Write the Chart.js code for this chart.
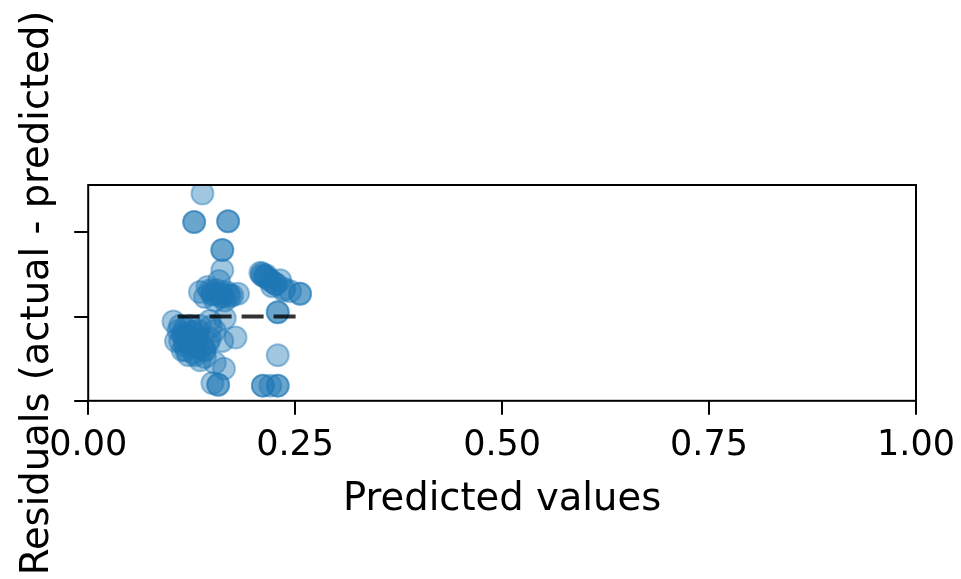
<!DOCTYPE html>
<html>
<head>
<meta charset="utf-8">
<script src="https://cdn.jsdelivr.net/npm/chart.js@4/dist/chart.umd.min.js"></script>
<style>
  html, body { margin: 0; padding: 0; background: #fff; }
  #wrap { width: 961px; height: 579px; }
</style>
</head>
<body>
<div id="wrap"><canvas id="c" width="961" height="579"></canvas></div>
<script>
// Predicted values and their residuals (actual - predicted)
const predicted = [
  0.138, 0.128, 0.128, 0.169, 0.169, 0.162, 0.162, 0.162, 0.158, 0.150,
  0.162, 0.171, 0.141, 0.155, 0.135, 0.150, 0.162, 0.210, 0.217, 0.226,
  0.236, 0.256, 0.256, 0.232, 0.215, 0.210, 0.229, 0.229, 0.103, 0.111,
  0.117, 0.123, 0.114, 0.129, 0.135, 0.145, 0.153, 0.162, 0.178, 0.141,
  0.153, 0.164, 0.157, 0.157, 0.150, 0.229, 0.211, 0.211, 0.229, 0.229,
  0.220, 0.123, 0.135, 0.117, 0.129, 0.147, 0.165, 0.106, 0.114, 0.125,
  0.140, 0.120, 0.132, 0.148,
  0.147, 0.157, 0.167, 0.174, 0.153, 0.165, 0.144, 0.181,
  0.208, 0.213, 0.220, 0.227, 0.237, 0.222, 0.244,
  0.109, 0.117, 0.126, 0.117, 0.129, 0.141, 0.121, 0.135, 0.147, 0.111,
  0.133, 0.123,
  0.150, 0.160, 0.170, 0.214, 0.224, 0.114, 0.120, 0.126, 0.132, 0.118,
  0.128, 0.138
];
const residuals = [
  0.146, 0.112, 0.112, 0.113, 0.113, 0.079, 0.079, 0.055, 0.042, 0.026,
  0.024, 0.024, 0.023, 0.031, 0.029, 0.030, 0.028, 0.051, 0.045, 0.039,
  0.031, 0.027, 0.027, 0.043, 0.049, 0.049, 0.005, 0.005, -0.006, -0.011,
  -0.023, -0.035, -0.040, -0.026, -0.038, -0.031, -0.017, -0.029, -0.025, -0.048,
  -0.055, -0.062, -0.081, -0.081, -0.079, -0.046, -0.082, -0.082, -0.082, -0.082,
  -0.082, -0.011, -0.011, -0.031, -0.046, -0.005, -0.002, -0.029, -0.020, -0.018,
  -0.040, -0.030, -0.022, -0.012,
  0.031, 0.027, 0.029, 0.025, 0.019, 0.019, 0.035, 0.027,
  0.052, 0.048, 0.043, 0.038, 0.033, 0.036, 0.030,
  -0.017, -0.014, -0.019, -0.035, -0.035, -0.040, -0.046, -0.052, -0.026, -0.029,
  -0.017, -0.029,
  0.027, 0.024, 0.026, 0.047, 0.040, -0.022, -0.025, -0.030, -0.028, -0.040,
  -0.043, -0.035
];

// Zero-residual reference line across the predicted range
const refX = [0.108, 0.258];
const refY = [0, 0];

const xTickValues = [0, 0.25, 0.5, 0.75, 1.0];
const xTickLabels = ['0.00', '0.25', '0.50', '0.75', '1.00'];
const yTickValues = [-0.1, 0, 0.1];

const FONT = 'DejaVu Sans';
const BLUE = 'rgba(31,119,180,0.42)';

const frame = {
  id: 'frame',
  afterDatasetsDraw(chart) {
    const { ctx, chartArea: a } = chart;
    ctx.save();
    ctx.strokeStyle = '#000';
    ctx.lineWidth = 2;
    ctx.strokeRect(a.left, a.top, a.right - a.left, a.bottom - a.top);
    ctx.restore();
  }
};

new Chart(document.getElementById('c'), {
  data: {
    datasets: [
      {
        type: 'line',
        data: refX.map((x, i) => ({ x, y: refY[i] })),
        borderColor: 'rgba(0,0,0,0.8)',
        borderWidth: 4,
        borderDash: [22, 10],
        pointRadius: 0,
        fill: false,
        order: 0,
        clip: 0
      },
      {
        type: 'scatter',
        data: predicted.map((x, i) => ({ x, y: residuals[i] })),
        backgroundColor: BLUE,
        borderColor: BLUE,
        borderWidth: 2,
        pointRadius: 11,
        order: 1,
        clip: 0
      }
    ]
  },
  options: {
    responsive: false,
    animation: false,
    events: [],
    layout: { padding: { left: 15, right: 45, top: 185, bottom: 56 } },
    plugins: { legend: { display: false }, tooltip: { enabled: false } },
    scales: {
      x: {
        type: 'linear',
        min: 0,
        max: 1,
        afterBuildTicks: s => { s.ticks = xTickValues.map(v => ({ value: v })); },
        afterFit: s => { s.paddingLeft = 0; s.paddingRight = 0; },
        ticks: {
          color: '#000',
          padding: 10,
          maxRotation: 0,
          font: { family: FONT, size: 35 },
          callback: (v, i) => xTickLabels[i]
        },
        grid: { drawOnChartArea: false, drawTicks: true, tickLength: 14, color: '#000', lineWidth: 2 },
        border: { display: false },
        title: {
          display: true,
          text: 'Predicted values',
          color: '#000',
          font: { family: FONT, size: 38.5 },
          padding: { top: 0, bottom: 0 }
        }
      },
      y: {
        type: 'linear',
        min: -0.1,
        max: 0.156,
        afterBuildTicks: s => { s.ticks = yTickValues.map(v => ({ value: v })); },
        ticks: { display: false },
        grid: { drawOnChartArea: false, drawTicks: true, tickLength: 14, color: '#000', lineWidth: 2 },
        border: { display: false },
        title: {
          display: true,
          text: 'Residuals (actual - predicted)',
          color: '#000',
          font: { family: FONT, size: 38.5 },
          padding: { top: 0, bottom: 13 }
        }
      }
    }
  },
  plugins: [frame]
});
</script>
</body>
</html>
